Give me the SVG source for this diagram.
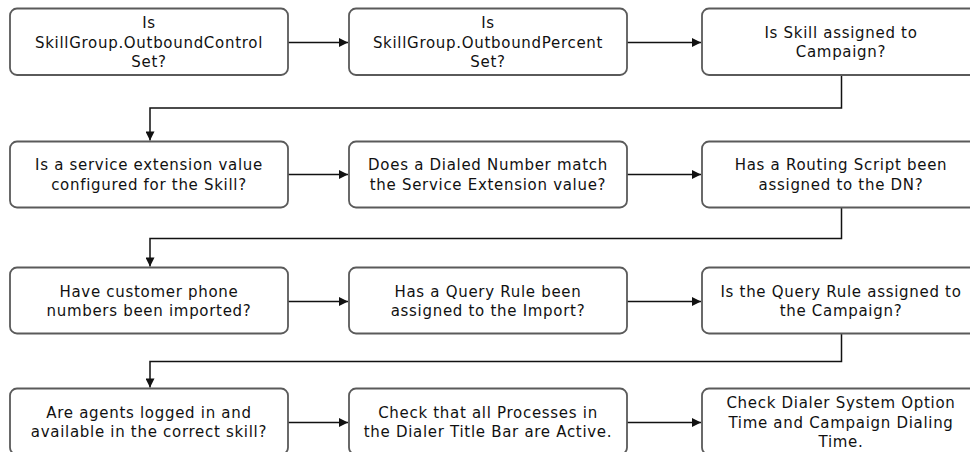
<svg xmlns="http://www.w3.org/2000/svg" width="970" height="452" viewBox="0 0 970 452">
<style>
.box{fill:#fff;stroke:#5a5a5a;stroke-width:1.8}
.t{font-family:"DejaVu Sans",Verdana,sans-serif;font-size:15px;letter-spacing:0.7px;fill:#111;text-anchor:middle}
.c{fill:none;stroke:#111;stroke-width:1.5}
</style>
<defs>
<marker id="ah" viewBox="0 0 10 10" refX="10" refY="5" markerWidth="10" markerHeight="9" markerUnits="userSpaceOnUse" orient="auto">
<path d="M0,0 L10,5 L0,10 Z" fill="#111"/>
</marker>
</defs>
<rect width="970" height="452" fill="#fff"/>
<g id="connectors">
<path class="c" d="M288,42.5 H348" marker-end="url(#ah)"/>
<path class="c" d="M627,42.5 H701" marker-end="url(#ah)"/>
<path class="c" d="M841.5,75 V108 H150 V140.5" marker-end="url(#ah)"/>
<path class="c" d="M288,174.5 H348" marker-end="url(#ah)"/>
<path class="c" d="M627,174.5 H701" marker-end="url(#ah)"/>
<path class="c" d="M841.5,207.5 V238.5 H150 V266.5" marker-end="url(#ah)"/>
<path class="c" d="M288,301.5 H348" marker-end="url(#ah)"/>
<path class="c" d="M627,301.5 H701" marker-end="url(#ah)"/>
<path class="c" d="M841.5,333.5 V361.5 H150 V387.5" marker-end="url(#ah)"/>
<path class="c" d="M288,422.5 H348" marker-end="url(#ah)"/>
<path class="c" d="M627,422.5 H701" marker-end="url(#ah)"/>
</g>
<g id="n1"><rect class="box" x="10" y="8.5" width="278" height="66.5" rx="7"/>
<text class="t" x="149" y="28">Is</text><text class="t" x="149" y="47.5">SkillGroup.OutboundControl</text><text class="t" x="149" y="67">Set?</text></g>
<g id="n2"><rect class="box" x="349" y="8.5" width="278" height="66.5" rx="7"/>
<text class="t" x="488" y="28">Is</text><text class="t" x="488" y="47.5">SkillGroup.OutboundPercent</text><text class="t" x="488" y="67">Set?</text></g>
<g id="n3"><rect class="box" x="702" y="8.5" width="278" height="66.5" rx="7"/>
<text class="t" x="841" y="37.5">Is Skill assigned to</text><text class="t" x="841" y="57">Campaign?</text></g>
<g id="n4"><rect class="box" x="10" y="141.5" width="278" height="66" rx="7"/>
<text class="t" x="149" y="170">Is a service extension value</text><text class="t" x="149" y="189.5">configured for the Skill?</text></g>
<g id="n5"><rect class="box" x="349" y="141.5" width="278" height="66" rx="7"/>
<text class="t" x="488" y="170">Does a Dialed Number match</text><text class="t" x="488" y="189.5">the Service Extension value?</text></g>
<g id="n6"><rect class="box" x="702" y="141.5" width="278" height="66" rx="7"/>
<text class="t" x="841" y="170">Has a Routing Script been</text><text class="t" x="841" y="189.5">assigned to the DN?</text></g>
<g id="n7"><rect class="box" x="10" y="267.5" width="278" height="66" rx="7"/>
<text class="t" x="149" y="296.5">Have customer phone</text><text class="t" x="149" y="316">numbers been imported?</text></g>
<g id="n8"><rect class="box" x="349" y="267.5" width="278" height="66" rx="7"/>
<text class="t" x="488" y="296.5">Has a Query Rule been</text><text class="t" x="488" y="316">assigned to the Import?</text></g>
<g id="n9"><rect class="box" x="702" y="267.5" width="278" height="66" rx="7"/>
<text class="t" x="841" y="296.5">Is the Query Rule assigned to</text><text class="t" x="841" y="316">the Campaign?</text></g>
<g id="n10"><rect class="box" x="10" y="388.5" width="278" height="66" rx="7"/>
<text class="t" x="149" y="417.5">Are agents logged in and</text><text class="t" x="149" y="437">available in the correct skill?</text></g>
<g id="n11"><rect class="box" x="349" y="388.5" width="278" height="66" rx="7"/>
<text class="t" x="488" y="417.5">Check that all Processes in</text><text class="t" x="488" y="437">the Dialer Title Bar are Active.</text></g>
<g id="n12"><rect class="box" x="702" y="388.5" width="278" height="66" rx="7"/>
<text class="t" x="841" y="408">Check Dialer System Option</text><text class="t" x="841" y="427.5">Time and Campaign Dialing</text><text class="t" x="841" y="447">Time.</text></g>
</svg>
